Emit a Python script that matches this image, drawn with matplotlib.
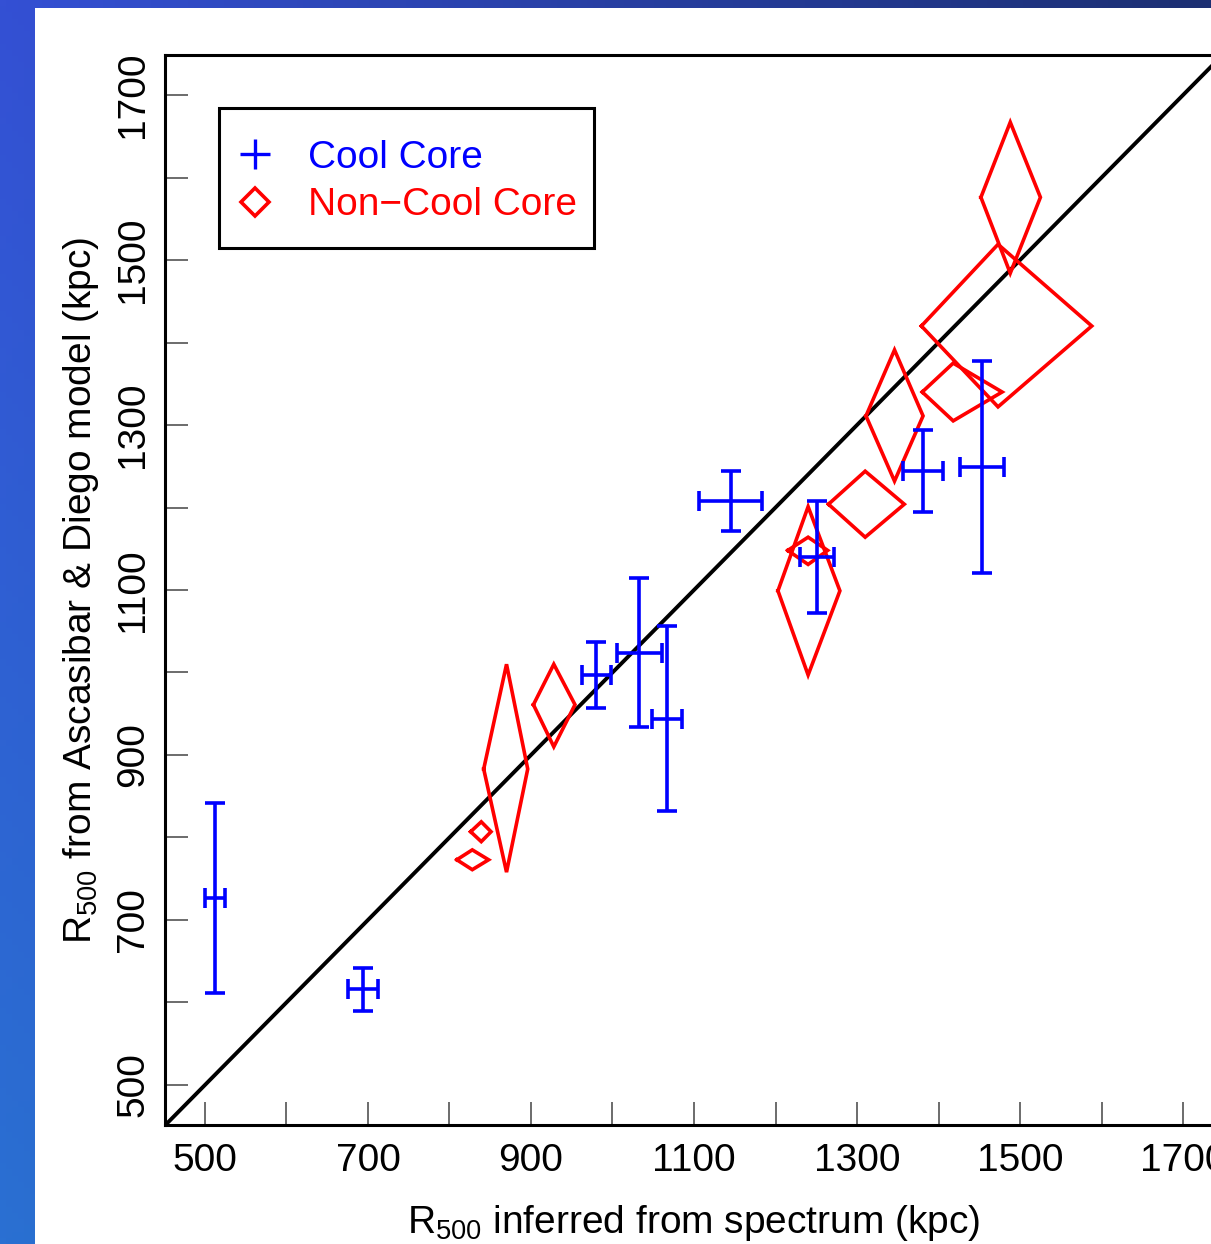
import numpy as np
import matplotlib
matplotlib.use('Agg')
import matplotlib.pyplot as plt
import matplotlib.ticker as ticker
from matplotlib.lines import Line2D
from matplotlib.patches import Rectangle

# Data (kpc)
# Cool core clusters: crosses with error bars
cc_x = [512, 694, 980, 1033, 1067, 1145, 1251, 1381, 1453]
cc_y = [727, 616, 997, 1024, 944, 1208, 1140, 1244, 1249]
cc_xerr = [12, 18, 18, 28, 18, 39, 21, 25, 27]
cc_yerr = [115, 26, 40, 90, 112, 36, 68, 50, 128]

# Non-cool core clusters: error diamonds (asymmetric)
ncc_x = [839, 828, 870, 928, 1240, 1240, 1310, 1346, 1418, 1473, 1488]
ncc_y = [807, 773, 883, 961, 1099, 1148, 1204, 1311, 1340, 1420, 1576]
ncc_xlo = [13, 19, 28, 25, 37, 25, 45, 35, 38, 94, 36]
ncc_xhi = [12, 20, 26, 26, 39, 24, 48, 35, 60, 115, 37]
ncc_ylo = [12, 12, 125, 51, 102, 17, 40, 79, 35, 98, 92]
ncc_yhi = [12, 12, 127, 49, 102, 16, 40, 80, 35, 99, 91]

tick_vals = list(range(500, 1800, 100))
label_vals = [500, 700, 900, 1100, 1300, 1500, 1700]

plt.rcParams['font.family'] = ['Liberation Sans', 'DejaVu Sans']
plt.rcParams['mathtext.fontset'] = 'custom'
plt.rcParams['mathtext.rm'] = 'Liberation Sans'
plt.rcParams['mathtext.default'] = 'rm'

W, H = 1211, 1244
fig = plt.figure(figsize=(W / 100, H / 100), dpi=100)

# slide background: blue gradient with white panel
bg = fig.add_axes([0, 0, 1, 1], zorder=-10)
gx, gy = np.meshgrid(np.linspace(0, 1, 200), np.linspace(0, 1, 200))
tl = np.array([0x34, 0x50, 0xd4]) / 255
tr = np.array([0x1c, 0x2f, 0x72]) / 255
bl = np.array([0x2a, 0x70, 0xd2]) / 255
br = np.array([0x25, 0x50, 0x9a]) / 255
img = ((1 - gx)[..., None] * (1 - gy)[..., None] * tl + gx[..., None] * (1 - gy)[..., None] * tr
       + (1 - gx)[..., None] * gy[..., None] * bl + gx[..., None] * gy[..., None] * br)
bg.imshow(img, extent=[0, 1, 0, 1], aspect='auto', origin='upper')
bg.add_patch(Rectangle((35 / W, 0), 1, 1 - 8 / H, facecolor='white', edgecolor='none'))
bg.set_xlim(0, 1)
bg.set_ylim(0, 1)
bg.axis('off')

ax = fig.add_axes([165 / W, 119 / H, 1058 / W, 1070 / H])
ax.set_xlim(451, 1749)
ax.set_ylim(451.5, 1748.5)

# one-to-one line
ax.axline((500, 500), slope=1, color='black', lw=2.8, zorder=1)

ax.errorbar(cc_x, cc_y, xerr=cc_xerr, yerr=cc_yerr, fmt='none', ecolor='blue',
            elinewidth=2.6, capsize=7, capthick=2.6, zorder=3)

for x, y, xl, xh, yl, yh in zip(ncc_x, ncc_y, ncc_xlo, ncc_xhi, ncc_ylo, ncc_yhi):
    ax.plot([x - xl, x, x + xh, x, x - xl], [y, y + yh, y, y - yl, y],
            color='red', lw=2.6, solid_joinstyle='miter', zorder=2)

for s in ['left', 'bottom', 'top', 'right']:
    ax.spines[s].set_linewidth(2.2)

ax.xaxis.set_major_locator(ticker.FixedLocator(tick_vals))
ax.yaxis.set_major_locator(ticker.FixedLocator(tick_vals))
ax.set_xticklabels([str(v) if v in label_vals else '' for v in tick_vals])
ax.set_yticklabels([str(v) if v in label_vals else '' for v in tick_vals],
                   rotation=90, va='center')
ax.tick_params(direction='in', length=16.5, width=1.1, color='#444444',
               labelsize=28, pad=13)
ax.tick_params(axis='y', pad=10)

ax.set_xlabel('R$_{500}$ inferred from spectrum (kpc)', fontsize=28, labelpad=17)
ax.set_ylabel('R$_{500}$ from Ascasibar & Diego model (kpc)', fontsize=28, labelpad=10)

# legend box (R-style: square frame, coloured labels)
ax.add_patch(Rectangle((0.0510, 0.8196), 0.3545, 0.1309, transform=ax.transAxes,
                       facecolor='white', edgecolor='black', lw=2.2, zorder=4))
handles = [
    Line2D([], [], ls='none', marker='+', color='blue', ms=21, mew=2.4, label='Cool Core'),
    Line2D([], [], ls='none', marker='D', color='red', mfc='none', ms=14, mew=2.6,
           label='Non\u2212Cool Core'),
]
leg = ax.legend(handles=handles, loc='center left', bbox_to_anchor=(0.0667, 0.8818),
                borderaxespad=0, borderpad=0, fontsize=28, labelcolor='linecolor',
                frameon=False, labelspacing=0.30, handlelength=1.0, handletextpad=0.86)
leg.set_zorder(5)

fig.savefig('out.png', dpi=100)
